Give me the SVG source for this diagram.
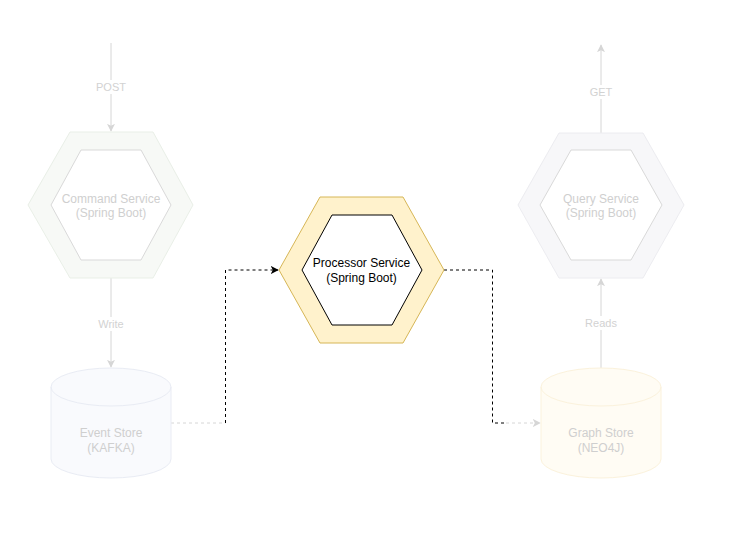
<svg xmlns="http://www.w3.org/2000/svg" width="729" height="534" viewBox="0 0 729 534">
<style>
text{font-family:"Liberation Sans",Arial,sans-serif;text-anchor:middle}
.ft{fill:#cfcfcf;font-size:12px}
.lb{fill:#d2d2d2;font-size:11px}
.dk{fill:#000;font-size:12px}
.gl{stroke:#d6d6d6;stroke-width:1;fill:none}
.inner{fill:#fff;stroke:#d9d9d9}
</style>
<defs>
<marker id="ag" viewBox="0 0 10 10" refX="9" refY="5" markerWidth="8" markerHeight="8" markerUnits="userSpaceOnUse" orient="auto">
<path d="M0,0 L10,5 L0,10 L2.5,5 z" fill="#d6d6d6"/>
</marker>
<marker id="ab" viewBox="0 0 10 10" refX="9" refY="5" markerWidth="8" markerHeight="8" markerUnits="userSpaceOnUse" orient="auto">
<path d="M0,0 L10,5 L0,10 L2.5,5 z" fill="#000"/>
</marker>
</defs>
<rect width="729" height="534" fill="#fff"/>

<g id="connectors">
<line class="gl" x1="111" y1="43" x2="111" y2="131" marker-end="url(#ag)"/>
<rect x="93" y="80" width="36" height="14" fill="#fff"/>
<text class="lb" x="111" y="91">POST</text>
<line class="gl" x1="111" y1="278" x2="111" y2="367" marker-end="url(#ag)"/>
<rect x="94" y="317" width="34" height="14" fill="#fff"/>
<text class="lb" x="111" y="328">Write</text>
<line class="gl" x1="601" y1="133" x2="601" y2="45" marker-end="url(#ag)"/>
<rect x="585" y="85" width="32" height="14" fill="#fff"/>
<text class="lb" x="601" y="96">GET</text>
<line class="gl" x1="601" y1="368" x2="601" y2="279" marker-end="url(#ag)"/>
<rect x="583" y="316" width="36" height="14" fill="#fff"/>
<text class="lb" x="601" y="327">Reads</text>
<path d="M171,423 H225.5" stroke="#d6d6d6" stroke-dasharray="3,3" fill="none"/>
<path d="M225.5,423 V270 H278" stroke="#000" stroke-dasharray="3,3" fill="none" marker-end="url(#ab)"/>
<path d="M444,270 H492.5 V423 H506" stroke="#000" stroke-dasharray="3,3" fill="none"/>
<path d="M506,423 H540" stroke="#d6d6d6" stroke-dasharray="3,3" fill="none" marker-end="url(#ag)"/>
</g>

<g id="command-service">
<polygon points="70,132 153,132 193,205 153,278 70,278 28,205" fill="#f7f9f6" stroke="#e9efe7"/>
<polygon class="inner" points="81,150 141,150 171,205 141,260 81,260 51,205"/>
<text class="ft" x="111" y="203">Command Service</text>
<text class="ft" x="111" y="217">(Spring Boot)</text>
</g>

<g id="processor-service">
<polygon points="320,197 403,197 444,270 403,343 320,343 279,270" fill="#fff2cc" stroke="#d6b656"/>
<polygon points="332,215 392,215 422,270 392,325 332,325 302,270" fill="#fff" stroke="#000"/>
<text class="dk" x="361.5" y="267">Processor Service</text>
<text class="dk" x="361.5" y="282">(Spring Boot)</text>
</g>

<g id="query-service">
<polygon points="559,133 643,133 684,205 643,278 559,278 518,205" fill="#f7f7f9" stroke="#ececf0"/>
<polygon class="inner" points="571,150 631,150 662,205 631,260 571,260 540,205"/>
<text class="ft" x="601" y="203">Query Service</text>
<text class="ft" x="601" y="217">(Spring Boot)</text>
</g>

<g id="event-store">
<path d="M51,387 A60,19 0 0 1 171,387 V459 A60,19 0 0 1 51,459 Z" fill="#f9fafd" stroke="#e9ecf4"/>
<path d="M51,387 A60,19 0 0 0 171,387" fill="none" stroke="#e9ecf4"/>
<text class="ft" x="111" y="437">Event Store</text>
<text class="ft" x="111" y="452">(KAFKA)</text>
</g>

<g id="graph-store">
<path d="M541,387 A60,19 0 0 1 661,387 V459 A60,19 0 0 1 541,459 Z" fill="#fffcf4" stroke="#fbf2dc"/>
<path d="M541,387 A60,19 0 0 0 661,387" fill="none" stroke="#fbf2dc"/>
<text class="ft" x="601" y="437">Graph Store</text>
<text class="ft" x="601" y="452">(NEO4J)</text>
</g>
</svg>
